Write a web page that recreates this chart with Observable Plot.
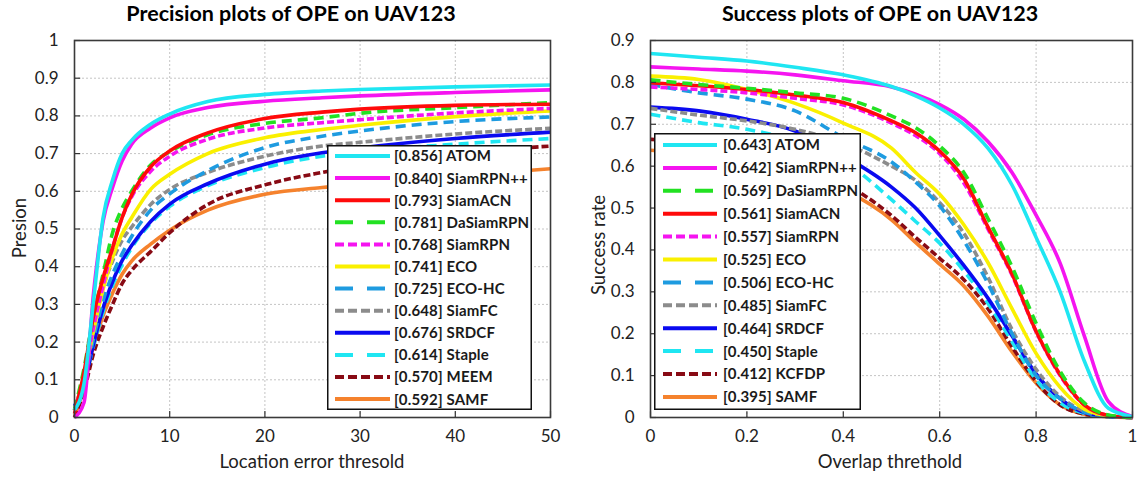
<!DOCTYPE html>
<html><head><meta charset="utf-8">
<script src="https://cdn.jsdelivr.net/npm/d3@7"></script>
<script src="https://cdn.jsdelivr.net/npm/@observablehq/plot@0.6"></script>
<style>
body{margin:0;background:#fff;font-family:Lato,"Open Sans",sans-serif;}
#root{position:relative;width:1137px;height:478px;overflow:hidden;background:#fff;}
.panel{position:absolute;top:0;}
.title{position:absolute;top:0px;font-weight:700;font-size:21.5px;white-space:nowrap;transform:translateX(-50%);color:#000;}
.xlab{position:absolute;top:450px;font-size:18.5px;transform:translateX(-50%);white-space:nowrap;color:#222;}
.ylab{position:absolute;font-size:18.5px;transform:translate(-50%,-50%) rotate(-90deg);white-space:nowrap;color:#222;}
.legend{position:absolute;}
</style>
</head><body>
<div id="root"></div>
<script>
// ---------------- Precision plot data ----------------
const precX = [0, 1, 2, 3, 4, 5, 6, 8, 10, 14, 20, 26, 30, 40, 50];
const precXTicks = [0, 10, 20, 30, 40, 50];
const precYTicks = [0, 0.1, 0.2, 0.3, 0.4, 0.5, 0.6, 0.7, 0.8, 0.9, 1];
const precNames  = ["ATOM", "SiamRPN++", "SiamACN", "DaSiamRPN", "SiamRPN", "ECO", "ECO-HC", "SiamFC", "SRDCF", "Staple", "MEEM", "SAMF"];
const precScores = ["0.856", "0.840", "0.793", "0.781", "0.768", "0.741", "0.725", "0.648", "0.676", "0.614", "0.570", "0.592"];
const precATOM      = [0.02, 0.09, 0.31, 0.53, 0.63, 0.70, 0.735, 0.778, 0.805, 0.838, 0.857, 0.866, 0.870, 0.877, 0.882];
const precSiamRPNpp = [0.00, 0.04, 0.33, 0.52, 0.61, 0.68, 0.725, 0.768, 0.795, 0.822, 0.839, 0.848, 0.853, 0.862, 0.869];
const precSiamACN   = [0.01, 0.12, 0.27, 0.37, 0.45, 0.53, 0.59, 0.665, 0.707, 0.755, 0.793, 0.810, 0.818, 0.828, 0.831];
const precDaSiamRPN = [0.02, 0.13, 0.27, 0.38, 0.49, 0.555, 0.60, 0.670, 0.705, 0.750, 0.780, 0.795, 0.807, 0.822, 0.835];
const precSiamRPN   = [0.02, 0.11, 0.24, 0.35, 0.45, 0.53, 0.585, 0.653, 0.693, 0.738, 0.768, 0.782, 0.790, 0.808, 0.820];
const precECO       = [0.02, 0.11, 0.23, 0.34, 0.425, 0.487, 0.53, 0.605, 0.645, 0.700, 0.742, 0.764, 0.775, 0.798, 0.813];
const precECOHC     = [0.02, 0.10, 0.21, 0.31, 0.38, 0.434, 0.48, 0.550, 0.593, 0.655, 0.716, 0.746, 0.760, 0.785, 0.797];
const precSiamFC    = [0.02, 0.11, 0.24, 0.345, 0.415, 0.47, 0.505, 0.565, 0.605, 0.650, 0.693, 0.720, 0.730, 0.752, 0.767];
const precSRDCF     = [0.03, 0.09, 0.195, 0.29, 0.36, 0.416, 0.456, 0.520, 0.566, 0.620, 0.672, 0.702, 0.715, 0.740, 0.757];
const precStaple    = [0.02, 0.09, 0.19, 0.28, 0.35, 0.405, 0.45, 0.515, 0.560, 0.615, 0.663, 0.693, 0.705, 0.725, 0.740];
const precMEEM      = [0.00, 0.07, 0.17, 0.24, 0.30, 0.355, 0.39, 0.440, 0.490, 0.565, 0.617, 0.650, 0.668, 0.700, 0.720];
const precSAMF      = [0.00, 0.08, 0.19, 0.27, 0.33, 0.38, 0.415, 0.460, 0.497, 0.550, 0.592, 0.610, 0.618, 0.640, 0.660];
const precSeries = [precATOM, precSiamRPNpp, precSiamACN, precDaSiamRPN, precSiamRPN, precECO, precECOHC, precSiamFC, precSRDCF, precStaple, precMEEM, precSAMF];

// ---------------- Success plot data ----------------
const succX = [0, 0.1, 0.2, 0.3, 0.4, 0.5, 0.55, 0.6, 0.65, 0.7, 0.75, 0.8, 0.85, 0.9, 0.95, 1];
const succXTicks = [0, 0.2, 0.4, 0.6, 0.8, 1];
const succYTicks = [0, 0.1, 0.2, 0.3, 0.4, 0.5, 0.6, 0.7, 0.8, 0.9];
const succNames  = ["ATOM", "SiamRPN++", "DaSiamRPN", "SiamACN", "SiamRPN", "ECO", "ECO-HC", "SiamFC", "SRDCF", "Staple", "KCFDP", "SAMF"];
const succScores = ["0.643", "0.642", "0.569", "0.561", "0.557", "0.525", "0.506", "0.485", "0.464", "0.450", "0.412", "0.395"];
const succATOM      = [0.869, 0.860, 0.851, 0.836, 0.818, 0.790, 0.768, 0.739, 0.700, 0.643, 0.555, 0.430, 0.300, 0.135, 0.022, 0.002];
const succSiamRPNpp = [0.837, 0.832, 0.827, 0.818, 0.804, 0.789, 0.772, 0.747, 0.712, 0.659, 0.585, 0.483, 0.368, 0.195, 0.038, 0.002];
const succDaSiamRPN = [0.806, 0.795, 0.786, 0.775, 0.762, 0.720, 0.692, 0.648, 0.585, 0.475, 0.360, 0.225, 0.110, 0.035, 0.006, 0.000];
const succSiamACN   = [0.799, 0.792, 0.783, 0.770, 0.752, 0.708, 0.680, 0.636, 0.570, 0.455, 0.343, 0.206, 0.102, 0.030, 0.005, 0.000];
const succSiamRPN   = [0.789, 0.783, 0.775, 0.762, 0.746, 0.703, 0.673, 0.630, 0.560, 0.450, 0.340, 0.205, 0.100, 0.030, 0.005, 0.000];
const succECO       = [0.815, 0.807, 0.783, 0.750, 0.703, 0.643, 0.585, 0.533, 0.460, 0.370, 0.260, 0.153, 0.072, 0.020, 0.004, 0.000];
const succECOHC     = [0.795, 0.775, 0.760, 0.732, 0.668, 0.610, 0.562, 0.505, 0.422, 0.320, 0.200, 0.100, 0.045, 0.013, 0.003, 0.000];
const succSiamFC    = [0.738, 0.722, 0.708, 0.688, 0.655, 0.600, 0.566, 0.513, 0.440, 0.335, 0.210, 0.115, 0.050, 0.015, 0.003, 0.000];
const succSRDCF     = [0.741, 0.732, 0.712, 0.684, 0.625, 0.550, 0.500, 0.434, 0.363, 0.285, 0.195, 0.104, 0.045, 0.012, 0.003, 0.000];
const succStaple    = [0.724, 0.704, 0.688, 0.660, 0.613, 0.520, 0.468, 0.416, 0.350, 0.273, 0.181, 0.090, 0.035, 0.010, 0.002, 0.000];
const succKCFDP     = [0.664, 0.655, 0.635, 0.605, 0.560, 0.482, 0.430, 0.380, 0.329, 0.260, 0.169, 0.086, 0.030, 0.008, 0.002, 0.000];
const succSAMF      = [0.638, 0.628, 0.612, 0.590, 0.545, 0.472, 0.418, 0.366, 0.314, 0.242, 0.157, 0.082, 0.030, 0.008, 0.002, 0.000];
const succSeries = [succATOM, succSiamRPNpp, succDaSiamRPN, succSiamACN, succSiamRPN, succECO, succECOHC, succSiamFC, succSRDCF, succStaple, succKCFDP, succSAMF];

// ---------------- Styles ----------------
const LONG = "long", SHORT = "short", SOLID = "solid";
const styles = {
  "ATOM":      {color: "#1FE6F2", dash: SOLID},
  "SiamRPN++": {color: "#F514F0", dash: SOLID},
  "SiamACN":   {color: "#FF0A0A", dash: SOLID},
  "DaSiamRPN": {color: "#22E122", dash: LONG},
  "SiamRPN":   {color: "#F514F0", dash: SHORT},
  "ECO":       {color: "#FAF000", dash: SOLID},
  "ECO-HC":    {color: "#1E9BE0", dash: LONG},
  "SiamFC":    {color: "#8C8C8C", dash: SHORT},
  "SRDCF":     {color: "#0A0AF0", dash: SOLID},
  "Staple":    {color: "#1FE6F2", dash: LONG},
  "MEEM":      {color: "#880A14", dash: SHORT},
  "KCFDP":     {color: "#880A14", dash: SHORT},
  "SAMF":      {color: "#F5822D", dash: SOLID}
};
const plotDash = {solid: null, long: "10,6", short: "7,3"};
const legDash = {solid: null, long: "18,14", short: "9,4"};
const fmt = d => String(+d.toFixed(2));

const root = document.getElementById("root");

function panel(cfg) {
  const rows = [];
  cfg.names.forEach((n, i) => cfg.xs.forEach((x, j) => rows.push({name: n, x, y: cfg.series[i][j]})));
  const lines = cfg.names.slice().reverse().map(n => Plot.line(rows.filter(r => r.name === n), {
    x: "x", y: "y", stroke: styles[n].color, strokeWidth: 3.6,
    strokeDasharray: plotDash[styles[n].dash], curve: "monotone-x", strokeLinecap: "butt"
  }));
  const chart = Plot.plot({
    width: cfg.width, height: 478,
    marginLeft: cfg.ml, marginRight: cfg.mr, marginTop: 40, marginBottom: 61,
    style: {fontFamily: "Lato, 'Open Sans', sans-serif", fontSize: "17px", background: "white", color: "#222", overflow: "visible"},
    x: {domain: cfg.xdom},
    y: {domain: cfg.ydom},
    marks: [
      Plot.gridX(cfg.xticks, {stroke: "#c4c4c4", strokeOpacity: 1, strokeDasharray: "2,2"}),
      Plot.gridY(cfg.yticks, {stroke: "#c4c4c4", strokeOpacity: 1, strokeDasharray: "2,2"}),
      ...lines,
      Plot.ruleX(cfg.xticks, {y1: cfg.ydom[0], y2: cfg.ydom[0] + cfg.tickY, stroke: "#333", strokeWidth: 1.2}),
      Plot.ruleY(cfg.yticks, {x1: cfg.xdom[0], x2: cfg.xdom[0] + cfg.tickX, stroke: "#333", strokeWidth: 1.2}),
      Plot.frame({stroke: "#3a3a3a", strokeWidth: 1.6}),
      Plot.axisX(cfg.xticks, {tickSize: 0, tickPadding: 12, label: null, tickFormat: fmt, fontSize: 17}),
      Plot.axisY(cfg.yticks, {tickSize: 0, tickPadding: 16, label: null, tickFormat: fmt, fontSize: 17})
    ]
  });
  chart.classList.add("panel");
  chart.style.left = cfg.left + "px";
  root.appendChild(chart);

  const t = document.createElement("div");
  t.className = "title"; t.textContent = cfg.title; t.style.left = cfg.titleX + "px";
  root.appendChild(t);
  const xl = document.createElement("div");
  xl.className = "xlab"; xl.textContent = cfg.xlabel; xl.style.left = cfg.xlabX + "px";
  root.appendChild(xl);
  const yl = document.createElement("div");
  yl.className = "ylab"; yl.textContent = cfg.ylabel; yl.style.left = cfg.ylabX + "px"; yl.style.top = cfg.ylabY + "px";
  root.appendChild(yl);

  // legend
  const L = cfg.leg;
  const svg = d3.create("svg").attr("class", "legend")
    .attr("width", L.w).attr("height", L.h)
    .style("left", L.x + "px").style("top", L.y + "px");
  svg.append("rect").attr("x", 0.75).attr("y", 0.75).attr("width", L.w - 1.5).attr("height", L.h - 1.5)
    .attr("fill", "white").attr("stroke", "#111").attr("stroke-width", 1.5);
  cfg.names.forEach((n, i) => {
    const cy = L.first + L.step * i;
    svg.append("line").attr("x1", L.lx1).attr("x2", L.lx2).attr("y1", cy).attr("y2", cy)
      .attr("stroke", styles[n].color).attr("stroke-width", 4)
      .attr("stroke-dasharray", legDash[styles[n].dash]);
    svg.append("text").attr("x", L.tx).attr("y", cy).attr("dy", "0.36em")
      .attr("font-family", "Lato, 'Open Sans', sans-serif").attr("font-size", 15).attr("font-weight", 700)
      .attr("letter-spacing", "0.15px")
      .attr("fill", "#1a1a1a").text(`[${cfg.scores[i]}] ${n}`);
  });
  root.appendChild(svg.node());
}

panel({
  xs: precX, series: precSeries, names: precNames, scores: precScores,
  xticks: precXTicks, yticks: precYTicks, xdom: [0, 50], ydom: [0, 1],
  tickX: 0.65, tickY: 0.016,
  width: 568, left: 0, ml: 74, mr: 18,
  title: "Precision plots of OPE on UAV123", titleX: 291,
  xlabel: "Location error thresold", xlabX: 312,
  ylabel: "Presion", ylabX: 19, ylabY: 228,
  leg: {x: 327, y: 145, w: 205, h: 265, first: 11, step: 22.1, lx1: 8, lx2: 63, tx: 67}
});

panel({
  xs: succX, series: succSeries, names: succNames, scores: succScores,
  xticks: succXTicks, yticks: succYTicks, xdom: [0, 1], ydom: [0, 0.9],
  tickX: 0.0125, tickY: 0.0135,
  width: 569, left: 568, ml: 82, mr: 5,
  title: "Success plots of OPE on UAV123", titleX: 880,
  xlabel: "Overlap threthold", xlabX: 890,
  ylabel: "Success rate", ylabX: 598, ylabY: 245,
  leg: {x: 654, y: 133, w: 207, h: 277, first: 12, step: 22.9, lx1: 9, lx2: 63, tx: 69}
});
</script>
</body></html>
